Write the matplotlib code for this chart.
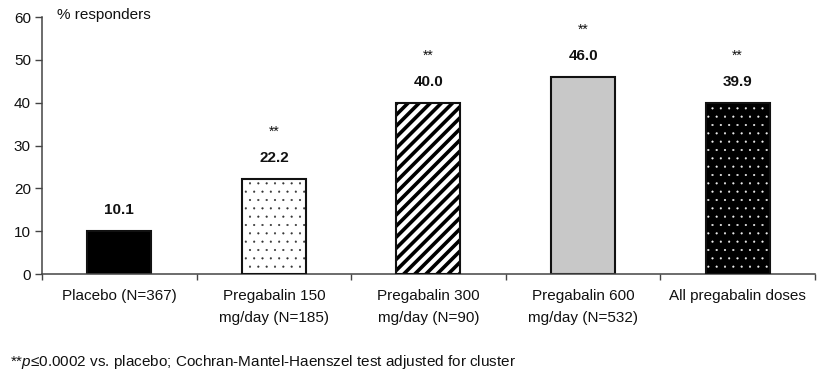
import matplotlib
matplotlib.use("Agg")
import matplotlib.pyplot as plt

plt.rcParams['font.family'] = ['Liberation Sans', 'DejaVu Sans']
plt.rcParams['mathtext.fontset'] = 'custom'
plt.rcParams['mathtext.rm'] = 'Liberation Sans'
plt.rcParams['mathtext.it'] = 'Liberation Sans:italic'

categories = ["Placebo (N=367)", "Pregabalin 150\nmg/day (N=185)", "Pregabalin 300\nmg/day (N=90)",
              "Pregabalin 600\nmg/day (N=532)", "All pregabalin doses"]
responders = [10.1, 22.2, 40.0, 46.0, 39.9]
significant = [False, True, True, True, True]
y_ticks = [0, 10, 20, 30, 40, 50, 60]

fig = plt.figure(figsize=(8.17, 3.73), dpi=100)
ax = fig.add_axes([0.0514, 0.2654, 0.9461, 0.689])

x = list(range(len(categories)))
w = 0.414
ink = '#111111'

# bar styles: (facecolor, hatch colour, hatch, hatch linewidth)
styles = [
    ('#000000', None, '', 0),
    ('white', '#333333', '..', 0.3),
    ('white', '#000000', '///', 2.6),
    ('#c8c8c8', None, '', 0),
    ('#000000', '#f0f0f0', '..', 0.3),
]

for xi, val, (fc, hc, hatch, hlw) in zip(x, responders, styles):
    if hatch:
        b = ax.bar(xi, val, w, color=fc, edgecolor=hc, hatch=hatch, linewidth=0, zorder=2)
        for p in b:
            if hasattr(p, 'set_hatch_linewidth'):
                p.set_hatch_linewidth(hlw)
        ax.bar(xi, val, w, fill=False, edgecolor=ink, linewidth=1.5, zorder=3)
    else:
        ax.bar(xi, val, w, color=fc, edgecolor=ink, linewidth=1.5, zorder=2)

for xi, val, sig in zip(x, responders, significant):
    ax.annotate(f"{val:.1f}", (xi, val), xytext=(0, 15), textcoords='offset points',
                ha='center', va='center', fontsize=11, fontweight='bold', color=ink)
    if sig:
        ax.annotate("**", (xi, val), xytext=(0, 34), textcoords='offset points',
                    ha='center', va='center', fontsize=10, color=ink)

ax.set_xlim(-0.5, 4.5)
ax.set_ylim(0, 60)
ax.set_yticks(y_ticks)
ax.set_yticklabels([str(t) for t in y_ticks], fontsize=11, color=ink)
ax.set_xticks(x)
ax.set_xticklabels(categories, fontsize=11, color=ink, linespacing=1.75)
ax.set_xticks([i - 0.5 for i in range(len(categories) + 1)], minor=True)
ax.tick_params(axis='x', which='major', length=0, pad=10.5)
ax.tick_params(axis='x', which='minor', length=4, width=1, color='#444444', direction='out')
ax.tick_params(axis='y', length=5, width=1, color='#444444', direction='out', pad=3)

for s in ['top', 'right']:
    ax.spines[s].set_visible(False)
for s in ['left', 'bottom']:
    ax.spines[s].set_color('#444444')
    ax.spines[s].set_linewidth(1.1)

ax.text(57 / 817, 1 - 15 / 373, "% responders", transform=fig.transFigure,
        ha='left', va='center', fontsize=11, color=ink)
fig.text(10 / 817, 1 - 362 / 373,
         r"**$\it{p}$≤0.0002 vs. placebo; Cochran-Mantel-Haenszel test adjusted for cluster",
         ha='left', va='center', fontsize=11, color=ink)

fig.savefig("out.png", dpi=100)
